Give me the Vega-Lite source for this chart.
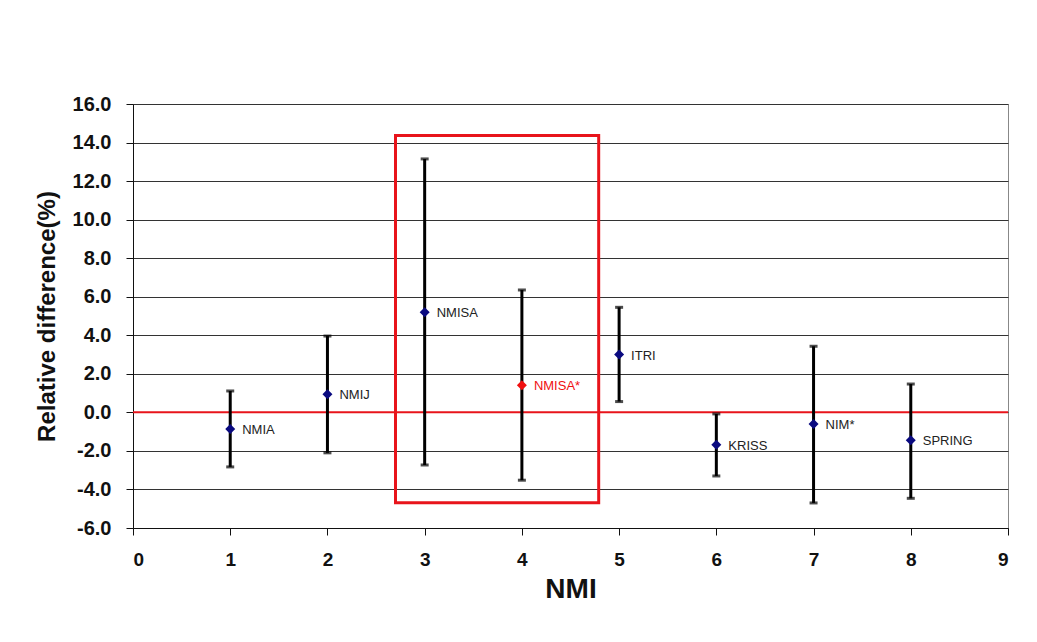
{
  "$schema": "https://vega.github.io/schema/vega-lite/v6.json",
  "autosize": "none",
  "width": 875,
  "height": 424,
  "padding": {"left": 133, "top": 104, "right": 29, "bottom": 114},
  "background": "white",
  "config": {
    "view": {"stroke": "#888", "strokeWidth": 1},
    "font": "Liberation Sans",
    "axisY": {
      "labelFont": "Liberation Sans", "labelFontSize": 20, "labelFontWeight": "bold", "labelColor": "#111",
      "titleFont": "Liberation Sans", "titleFontSize": 24, "titleFontWeight": "bold", "titleColor": "#111",
      "titlePadding": 13, "labelOverlap": false,
      "domainColor": "#111", "tickColor": "#111", "tickSize": 7,
      "gridColor": "#333", "gridWidth": 1, "grid": true, "labelPadding": 15
    },
    "axisX": {
      "grid": false,
      "labelFont": "Liberation Sans", "labelFontSize": 19, "labelFontWeight": "bold", "labelColor": "#111",
      "titleFont": "Liberation Sans", "titleFontSize": 28, "titleFontWeight": "bold", "titleColor": "#111",
      "titlePadding": 6,
      "domainColor": "#111", "tickColor": "#111", "tickSize": 7, "labelPadding": 15
    }
  },
  "datasets": {
    "pts": [
      {"nmi": 1, "name": "NMIA", "value": -0.86, "lo": -2.83, "hi": 1.11, "group": "normal"},
      {"nmi": 2, "name": "NMIJ", "value": 0.94, "lo": -2.1, "hi": 3.96, "group": "normal"},
      {"nmi": 3, "name": "NMISA", "value": 5.19, "lo": -2.73, "hi": 13.15, "group": "normal"},
      {"nmi": 4, "name": "NMISA*", "value": 1.41, "lo": -3.52, "hi": 6.35, "group": "highlight"},
      {"nmi": 5, "name": "ITRI", "value": 3.0, "lo": 0.56, "hi": 5.45, "group": "normal"},
      {"nmi": 6, "name": "KRISS", "value": -1.68, "lo": -3.3, "hi": -0.08, "group": "normal"},
      {"nmi": 7, "name": "NIM*", "value": -0.6, "lo": -4.7, "hi": 3.43, "group": "normal"},
      {"nmi": 8, "name": "SPRING", "value": -1.45, "lo": -4.46, "hi": 1.47, "group": "normal"}
    ]
  },
  "layer": [
    {
      "data": {"values": [{"z": 0}]},
      "mark": {"type": "rule", "color": "#e8141b", "strokeWidth": 2},
      "encoding": {
        "y": {
          "field": "z", "type": "quantitative",
          "scale": {"domain": [-6, 16], "nice": false},
          "axis": {"title": "Relative difference(%)", "values": [-6, -4, -2, 0, 2, 4, 6, 8, 10, 12, 14, 16], "labelExpr": "(datum.value < 0 ? '-' : '') + format(abs(datum.value), '.1f')"}
        }
      }
    },
    {
      "data": {"values": [{"x1": 2.7, "x2": 4.79, "y1": 14.36, "y2": -4.69}]},
      "mark": {"type": "rect", "fill": null, "fillOpacity": 0, "stroke": "#e8141b", "strokeWidth": 3},
      "encoding": {
        "x": {"field": "x1", "type": "quantitative", "scale": {"domain": [0, 9], "nice": false},
          "axis": {"title": "NMI", "values": [0, 1, 2, 3, 4, 5, 6, 7, 8, 9], "labelExpr": "format(datum.value, 'd')"}},
        "x2": {"field": "x2"},
        "y": {"field": "y1", "type": "quantitative",
          "axis": {"title": "Relative difference(%)", "values": [-6, -4, -2, 0, 2, 4, 6, 8, 10, 12, 14, 16], "labelExpr": "(datum.value < 0 ? '-' : '') + format(abs(datum.value), '.1f')"}},
        "y2": {"field": "y2"}
      }
    },
    {
      "data": {"name": "pts"},
      "mark": {"type": "rule", "color": "#000", "strokeWidth": 3},
      "encoding": {
        "x": {"field": "nmi", "type": "quantitative",
          "axis": {"title": "NMI", "values": [0, 1, 2, 3, 4, 5, 6, 7, 8, 9], "labelExpr": "format(datum.value, 'd')"}},
        "y": {"field": "lo", "type": "quantitative",
          "axis": {"title": "Relative difference(%)", "values": [-6, -4, -2, 0, 2, 4, 6, 8, 10, 12, 14, 16], "labelExpr": "(datum.value < 0 ? '-' : '') + format(abs(datum.value), '.1f')"}},
        "y2": {"field": "hi"}
      }
    },
    {
      "data": {"name": "pts"},
      "mark": {"type": "tick", "orient": "horizontal", "color": "#000", "size": 8, "thickness": 3},
      "encoding": {
        "x": {"field": "nmi", "type": "quantitative",
          "axis": {"title": "NMI", "values": [0, 1, 2, 3, 4, 5, 6, 7, 8, 9], "labelExpr": "format(datum.value, 'd')"}},
        "y": {"field": "lo", "type": "quantitative",
          "axis": {"title": "Relative difference(%)", "values": [-6, -4, -2, 0, 2, 4, 6, 8, 10, 12, 14, 16], "labelExpr": "(datum.value < 0 ? '-' : '') + format(abs(datum.value), '.1f')"}}
      }
    },
    {
      "data": {"name": "pts"},
      "mark": {"type": "tick", "orient": "horizontal", "color": "#000", "size": 8, "thickness": 3},
      "encoding": {
        "x": {"field": "nmi", "type": "quantitative",
          "axis": {"title": "NMI", "values": [0, 1, 2, 3, 4, 5, 6, 7, 8, 9], "labelExpr": "format(datum.value, 'd')"}},
        "y": {"field": "hi", "type": "quantitative",
          "axis": {"title": "Relative difference(%)", "values": [-6, -4, -2, 0, 2, 4, 6, 8, 10, 12, 14, 16], "labelExpr": "(datum.value < 0 ? '-' : '') + format(abs(datum.value), '.1f')"}}
      }
    },
    {
      "data": {"name": "pts"},
      "mark": {"type": "point", "shape": "diamond", "filled": true, "size": 100, "opacity": 1},
      "encoding": {
        "x": {"field": "nmi", "type": "quantitative",
          "axis": {"title": "NMI", "values": [0, 1, 2, 3, 4, 5, 6, 7, 8, 9], "labelExpr": "format(datum.value, 'd')"}},
        "y": {"field": "value", "type": "quantitative",
          "axis": {"title": "Relative difference(%)", "values": [-6, -4, -2, 0, 2, 4, 6, 8, 10, 12, 14, 16], "labelExpr": "(datum.value < 0 ? '-' : '') + format(abs(datum.value), '.1f')"}},
        "color": {
          "field": "group", "type": "nominal",
          "scale": {"domain": ["normal", "highlight"], "range": ["#0a0a80", "#f01010"]},
          "legend": null
        }
      }
    },
    {
      "data": {"name": "pts"},
      "mark": {"type": "text", "align": "left", "baseline": "middle", "dx": 12, "dy": 1, "fontSize": 13, "font": "Liberation Sans"},
      "encoding": {
        "x": {"field": "nmi", "type": "quantitative",
          "axis": {"title": "NMI", "values": [0, 1, 2, 3, 4, 5, 6, 7, 8, 9], "labelExpr": "format(datum.value, 'd')"}},
        "y": {"field": "value", "type": "quantitative",
          "axis": {"title": "Relative difference(%)", "values": [-6, -4, -2, 0, 2, 4, 6, 8, 10, 12, 14, 16], "labelExpr": "(datum.value < 0 ? '-' : '') + format(abs(datum.value), '.1f')"}},
        "text": {"field": "name"},
        "color": {
          "field": "group", "type": "nominal",
          "scale": {"domain": ["normal", "highlight"], "range": ["#222222", "#f01010"]},
          "legend": null
        }
      }
    }
  ],
  "resolve": {"scale": {"color": "independent"}}
}
